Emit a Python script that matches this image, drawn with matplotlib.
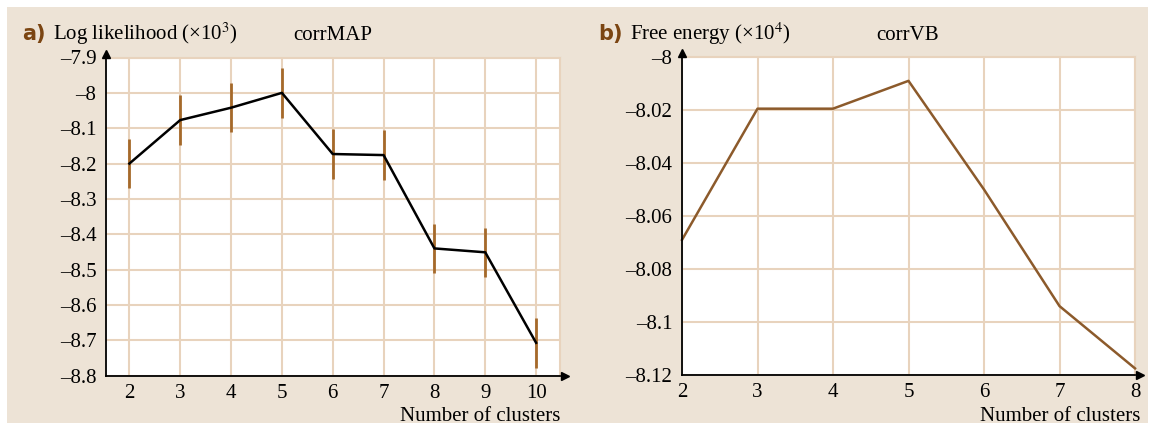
import matplotlib
matplotlib.use("Agg")
import matplotlib.pyplot as plt
from matplotlib.patches import Rectangle
from matplotlib.ticker import FuncFormatter

# data
clusters_a = [2, 3, 4, 5, 6, 7, 8, 9, 10]
loglik = [-8.200, -8.077, -8.042, -8.000, -8.173, -8.176, -8.440, -8.451, -8.707]
loglik_err = [0.070, 0.070, 0.070, 0.070, 0.070, 0.070, 0.070, 0.070, 0.070]
ticks_a = [-7.9, -8.0, -8.1, -8.2, -8.3, -8.4, -8.5, -8.6, -8.7, -8.8]

clusters_b = [2, 3, 4, 5, 6, 7, 8]
free_energy = [-8.069, -8.0195, -8.0195, -8.009, -8.050, -8.094, -8.1175]
ticks_b = [-8.0, -8.02, -8.04, -8.06, -8.08, -8.1, -8.12]

bg = "#ede3d6"
grid_c = "#e8d3bd"
brown = "#8c5a2b"
err_c = "#a5692a"
label_c = "#7b4512"

plt.rcParams["font.family"] = ["Liberation Serif", "DejaVu Serif"]
plt.rcParams["mathtext.fontset"] = "stix"

W, H = 1155, 430
fig = plt.figure(figsize=(W / 100, H / 100), dpi=100)
fig.patches.append(Rectangle((7 / W, 7 / H), (1148 - 7) / W, (423 - 7) / H,
                             transform=fig.transFigure, facecolor=bg,
                             edgecolor="none", zorder=-10))


def px_axes(left, right, top, bottom):
    return fig.add_axes([left / W, 1 - bottom / H, (right - left) / W, (bottom - top) / H])


def fmt(v, p):
    return ("%g" % v).replace("-", "\u2013")


def style(ax):
    ax.set_facecolor("white")
    ax.grid(True, color=grid_c, linewidth=1.5)
    ax.set_axisbelow(True)
    for s in ["top", "right"]:
        ax.spines[s].set_color(grid_c)
        ax.spines[s].set_linewidth(1.5)
    for s in ["left", "bottom"]:
        ax.spines[s].set_color("black")
        ax.spines[s].set_linewidth(1.3)
        ax.spines[s].set_zorder(5)
    ax.tick_params(length=0, labelsize=15, colors="black")
    ax.tick_params(axis="y", pad=7)
    ax.tick_params(axis="x", pad=6)
    ax.yaxis.set_major_formatter(FuncFormatter(fmt))
    ax.plot(0, 1.012, marker="^", color="black", markersize=6,
            transform=ax.transAxes, clip_on=False, zorder=6)
    ax.plot(1.012, 0, marker=">", color="black", markersize=6,
            transform=ax.transAxes, clip_on=False, zorder=6)


# panel a
ax1 = px_axes(106, 560, 57.5, 375.7)
style(ax1)
ax1.set_xlim(1.54, 10.47)
ax1.set_ylim(-8.8, -7.9)
ax1.set_xticks(clusters_a)
ax1.set_yticks(ticks_a)
ax1.errorbar(clusters_a, loglik, yerr=loglik_err, fmt="none", ecolor=err_c,
             elinewidth=2, capsize=0, zorder=3)
ax1.plot(clusters_a, loglik, color="black", linewidth=1.8, zorder=4)

# panel b
ax2 = px_axes(682, 1135, 57, 375)
style(ax2)
ax2.set_xlim(2, 8)
ax2.set_ylim(-8.12, -8.0)
ax2.set_xticks(clusters_b)
ax2.set_yticks(ticks_b)
ax2.plot(clusters_b, free_energy, color=brown, linewidth=1.8, zorder=4, clip_on=False)

# labels
fy = 1 - 40 / H
fig.text(22 / W, fy, "a)", fontsize=15, fontweight="bold", color=label_c,
         family="DejaVu Sans", va="baseline")
fig.text(53 / W, fy, "Log likelihood (×10$^3$)", fontsize=15, va="baseline")
fig.text(293 / W, fy, "corrMAP", fontsize=15, va="baseline")
fig.text(598 / W, fy, "b)", fontsize=15, fontweight="bold", color=label_c,
         family="DejaVu Sans", va="baseline")
fig.text(630 / W, fy, "Free energy (×10$^4$)", fontsize=15, va="baseline")
fig.text(876 / W, fy, "corrVB", fontsize=15, va="baseline")

xy = 1 - 422 / H
fig.text(560 / W, xy + 0.003, "Number of clusters", fontsize=15, ha="right", va="baseline")
fig.text(1140 / W, xy + 0.003, "Number of clusters", fontsize=15, ha="right", va="baseline")

fig.savefig("out.png", dpi=100, facecolor="white")
